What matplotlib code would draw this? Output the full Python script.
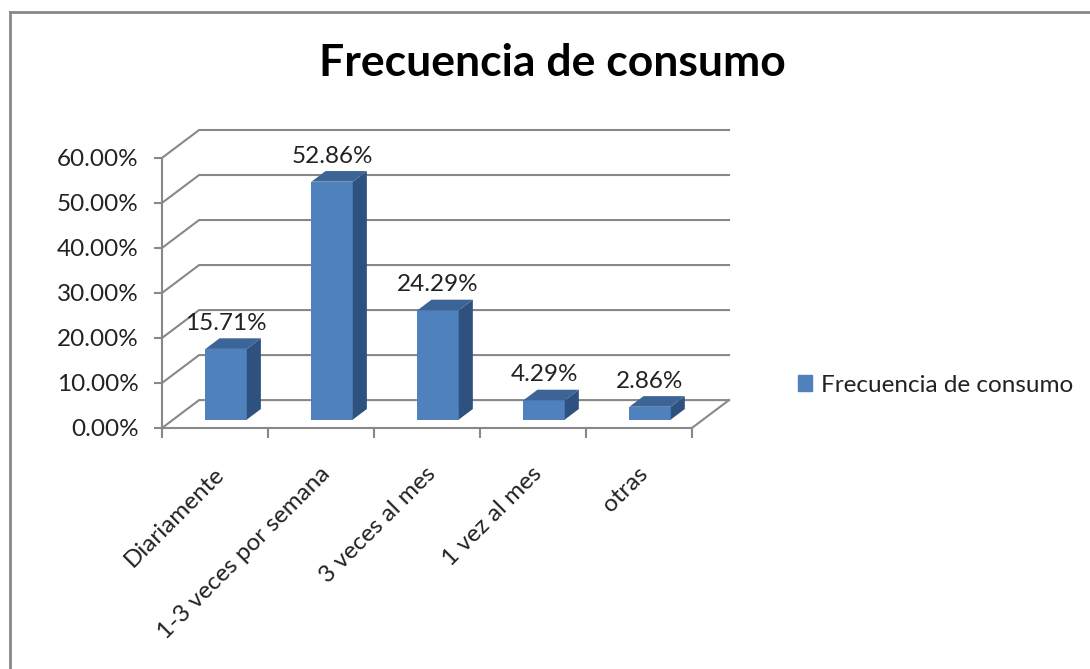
#!/usr/bin/env python
"""plot.py"""
import matplotlib
matplotlib.use('Agg')
import matplotlib.pyplot as plt
from matplotlib.patches import Polygon, Patch
from matplotlib.lines import Line2D

categories = ['Diariamente', '1-3 veces por semana', '3 veces al mes',
              '1 vez al mes', 'otras']
values = [15.71, 52.86, 24.29, 4.29, 2.86]
y_ticks = [0, 10, 20, 30, 40, 50, 60]
series_name = 'Frecuencia de consumo'
title = 'Frecuencia de consumo'

FONT = 'Lato'
GRID = '#888888'
FRONT = '#4f81bd'
TOP = '#3c6496'
SIDE = '#2f5180'

# fake 3D depth of the plot box (category units, percent units)
DX, DY = 0.35, 6.2
F0, F1 = 0.30, 0.68   # front / back of bars as fraction of depth
BAR_W = 0.39

W, H = 1090, 669
fig = plt.figure(figsize=(W / 100, H / 100), dpi=100)
ax = fig.add_axes([162 / W, (H - 428) / H, (729 - 162) / W, (428 - 130) / H])
ax.set_xlim(0, len(categories) + DX)
ax.set_ylim(0, y_ticks[-1] + DY)

# walls and gridlines
n = len(categories)
for v in y_ticks:
    ax.plot([0, DX, n + DX], [v, v + DY, v + DY], color=GRID, lw=1.5,
            clip_on=False, zorder=1, solid_joinstyle='miter')
ax.plot([n, n + DX], [0, DY], color=GRID, lw=1.5, clip_on=False, zorder=1)

for s in ['top', 'right']:
    ax.spines[s].set_visible(False)
for s in ['left', 'bottom']:
    ax.spines[s].set_color(GRID)
    ax.spines[s].set_linewidth(1.5)
ax.spines['left'].set_bounds(0, y_ticks[-1])
ax.spines['bottom'].set_bounds(0, n)

ax.set_yticks(y_ticks)
ax.set_yticklabels(['%.2f%%' % v for v in y_ticks])
ax.set_xticks(range(n + 1))
ax.set_xticklabels([])
ax.tick_params(axis='y', length=6, width=1.5, color=GRID, pad=11,
               labelsize=17.5, labelcolor='#222222')
ax.tick_params(axis='x', length=7, width=1.5, color=GRID)
for lab in ax.get_yticklabels():
    lab.set_fontfamily(FONT)

# bars
xs = [i + 0.5 for i in range(n)]
b0 = DY * F0
ddx, ddy = DX * (F1 - F0), DY * (F1 - F0)
ax.bar([x + DX * F0 for x in xs], values, width=BAR_W, bottom=b0,
       color=FRONT, zorder=3)
for x, v in zip(xs, values):
    xl = x - BAR_W / 2 + DX * F0
    xr = x + BAR_W / 2 + DX * F0
    side = Polygon([(xr, b0), (xr + ddx, b0 + ddy),
                    (xr + ddx, b0 + v + ddy), (xr, b0 + v)],
                   closed=True, facecolor=SIDE, edgecolor='none', zorder=3)
    top = Polygon([(xl, b0 + v), (xr, b0 + v), (xr + ddx, b0 + v + ddy),
                   (xl + ddx, b0 + v + ddy)],
                  closed=True, facecolor=TOP, edgecolor='none', zorder=3)
    ax.add_patch(side)
    ax.add_patch(top)
    ax.annotate('%.2f%%' % v, (x + DX * F0, b0 + v + ddy),
                xytext=(0, 6), textcoords='offset points', ha='center',
                va='baseline', fontsize=17.5, fontfamily=FONT,
                color='#222222', zorder=4)

# category labels
for x, lab in zip(xs, categories):
    ax.text(x - 0.02, -7.8, lab, rotation=45, ha='right', va='top',
            rotation_mode='anchor', fontsize=17.5, fontfamily=FONT,
            color='#222222', clip_on=False)

fig.text(552 / W, 1 - 63 / H, title, ha='center', va='center',
         fontsize=32, fontweight='bold', fontfamily=FONT)

fig.legend(handles=[Patch(color=FRONT, label=series_name)],
           loc='center left', bbox_to_anchor=(776 / W, 1 - 385 / H),
           frameon=False, handlelength=0.6, handleheight=0.6,
           handletextpad=0.35, prop={'family': FONT, 'size': 17.5},
           labelcolor='#222222')

# chart border
fig.add_artist(Line2D([10 / W, 1.0], [1 - 12 / H, 1 - 12 / H],
                      color=GRID, lw=2, transform=fig.transFigure))
fig.add_artist(Line2D([10 / W, 10 / W], [0, 1 - 12 / H],
                      color=GRID, lw=2, transform=fig.transFigure))

fig.savefig('out.png', dpi=100)
plt.close()
